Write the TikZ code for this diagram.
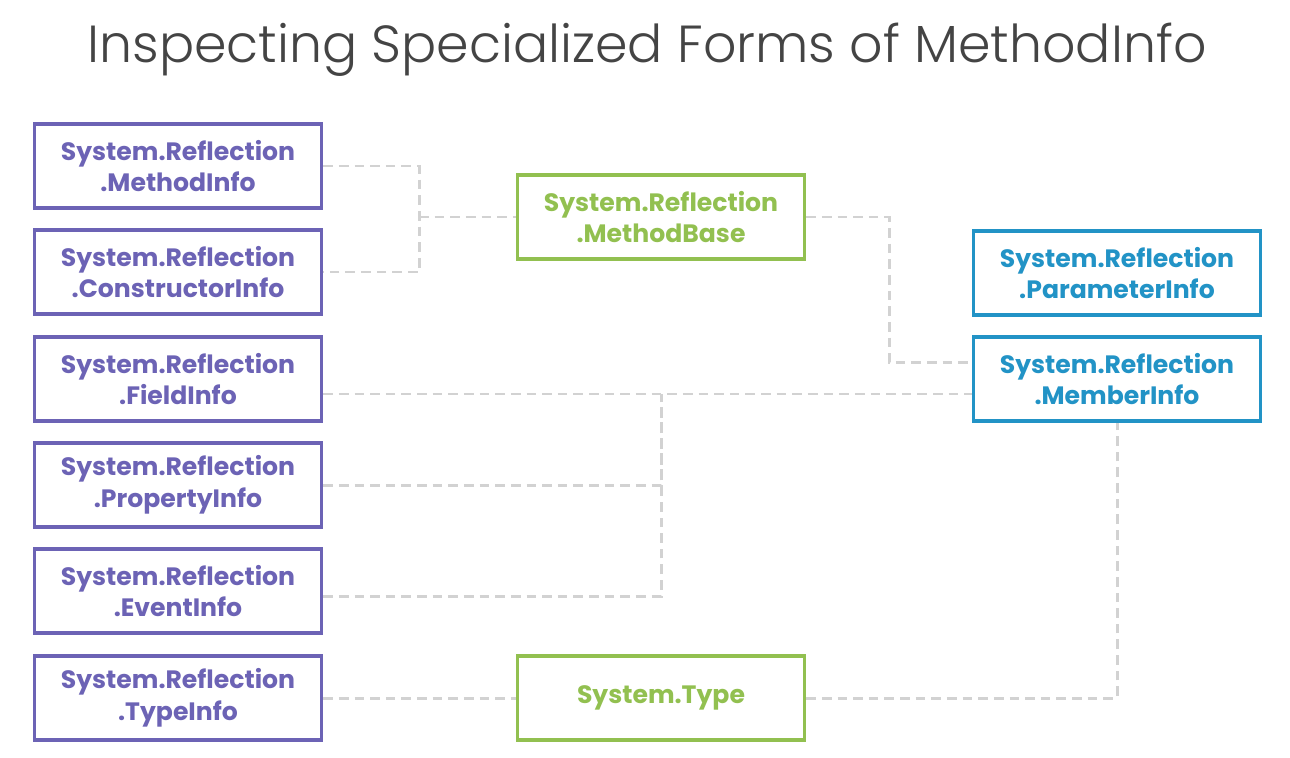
\documentclass[tikz,border=0pt]{standalone}
\usepackage{fontspec}
\setmainfont{Poppins}
\newfontfamily\titlefont{Poppins Light}
\definecolor{refpurple}{HTML}{6C63B5}
\definecolor{refgreen}{HTML}{92C050}
\definecolor{refblue}{HTML}{2293C6}
\definecolor{linkgray}{HTML}{D2D2D2}
\definecolor{titlegray}{HTML}{444444}
\begin{document}
\begin{tikzpicture}[x=0.02cm,y=-0.02cm,
	classbox/.style={draw,line width=2pt,fill=white,minimum width=5.74cm,minimum height=1.68cm,align=center,font=\bfseries\fontsize{14.3}{18}\selectfont},
	purplebox/.style={classbox,draw=refpurple,text=refpurple},
	greenbox/.style={classbox,draw=refgreen,text=refgreen},
	bluebox/.style={classbox,draw=refblue,text=refblue},
	link/.style={draw=linkgray,line width=1.7pt,dash pattern=on 5.5pt off 3.4pt}]
	\useasboundingbox (0,0) rectangle (1290,757);
	\node[text=titlegray,font=\titlefont\fontsize{29.7}{36}\selectfont] (title) at (647,50) {Inspecting Specialized Forms of MethodInfo};

	\foreach \n/\t/\y in {methodinfo/MethodInfo/166,constructorinfo/ConstructorInfo/272,fieldinfo/FieldInfo/379,propertyinfo/PropertyInfo/485,eventinfo/EventInfo/591,typeinfo/TypeInfo/698}
		\node[purplebox] at (178,\y) (\n) {System.Reflection\\.\t};

	\node[greenbox] at (661,217) (methodbase) {System.Reflection\\.MethodBase};
	\node[greenbox] at (661,698) (systemtype) {System.Type};
	\node[bluebox] at (1117,273) (parameterinfo) {System.Reflection\\.ParameterInfo};
	\node[bluebox] at (1117,379) (memberinfo) {System.Reflection\\.MemberInfo};

	\coordinate (lefttee) at (419,217);
	\coordinate (midtee) at (661,394);
	\coordinate (rightbend) at (889,0);
	\coordinate (upper) at ([yshift=0.34cm]memberinfo.west);
	\coordinate (lower) at ([yshift=-0.3cm]memberinfo.west);

	\draw[link] (methodinfo.east) -| (lefttee) |- (constructorinfo.east);
	\draw[link] (lefttee) -- (methodbase.west);
	\draw[link] (methodbase.east) -| (rightbend |- upper) -- (upper);
	\draw[link] (fieldinfo.east |- lower) -- (lower);
	\draw[link] (propertyinfo.east) -| (midtee);
	\draw[link] ([yshift=-0.1cm]eventinfo.east) -| (midtee);
	\draw[link] (typeinfo.east) -- (systemtype.west);
	\draw[link] (systemtype.east) -| (memberinfo.south);
\end{tikzpicture}
\end{document}
